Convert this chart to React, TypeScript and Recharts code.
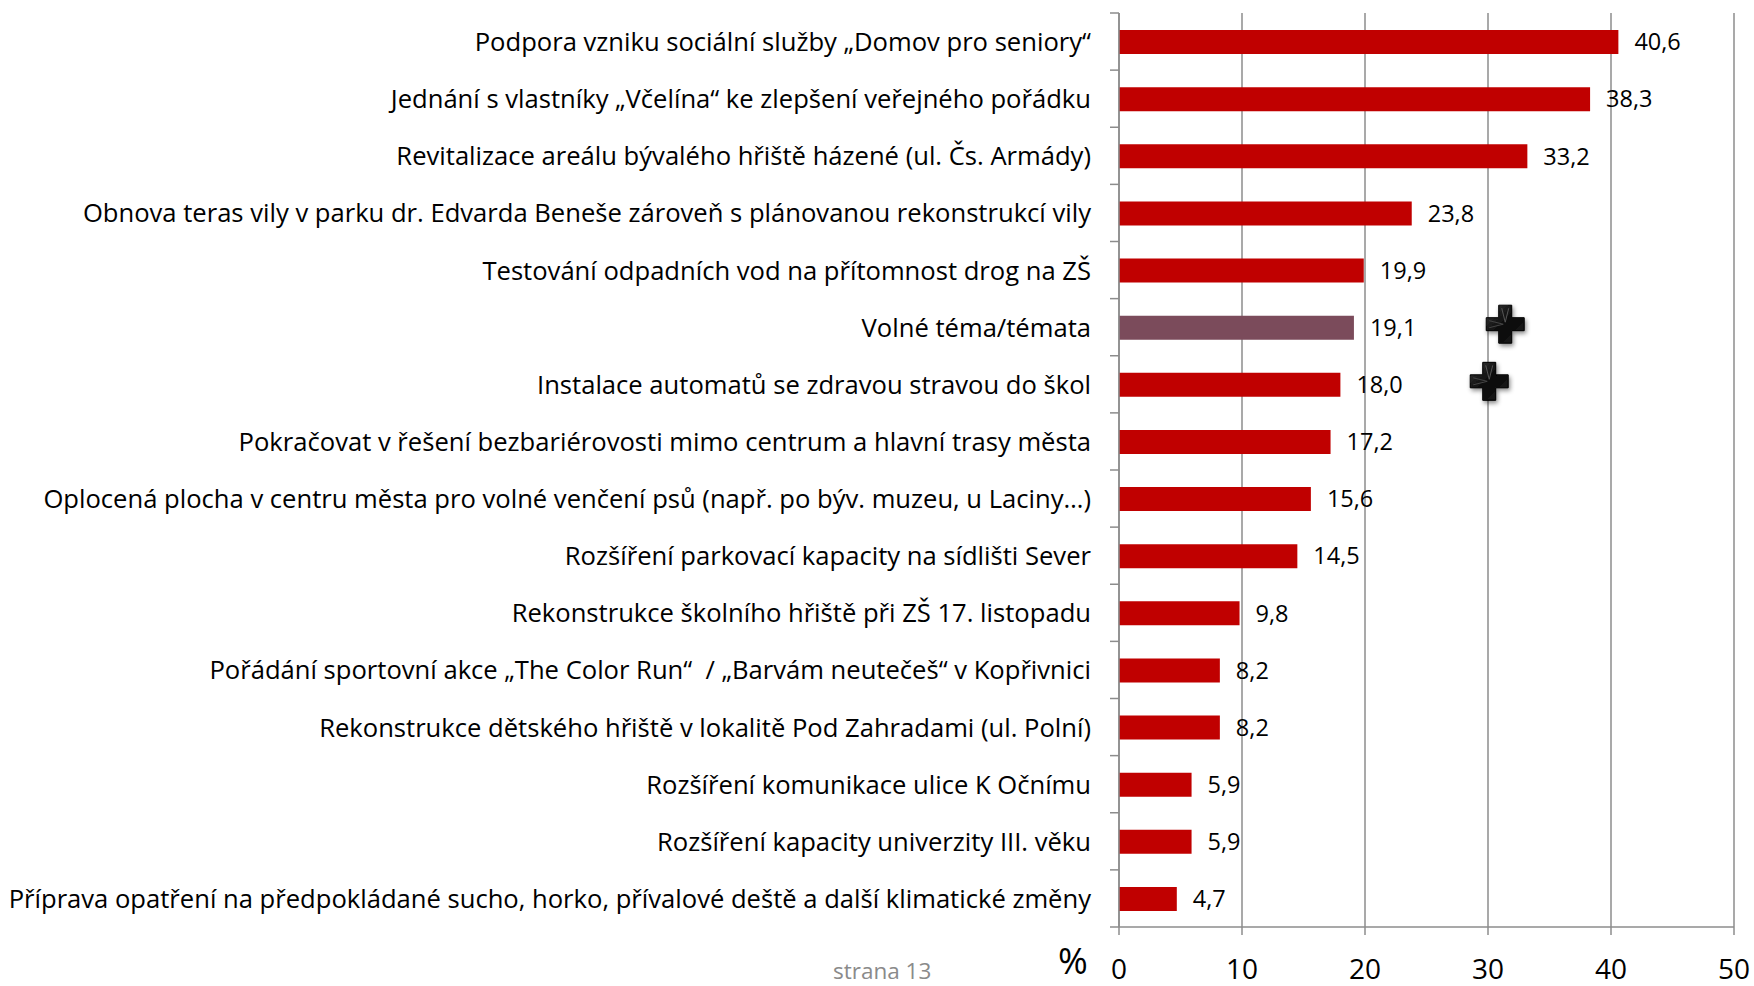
import React from "react"
import {
  ComposedChart,
  Bar,
  XAxis,
  YAxis,
  CartesianGrid,
  Cell,
  LabelList,
  ReferenceDot,
} from "recharts"

const categories = [
  "Podpora vzniku sociální služby „Domov pro seniory“",
  "Jednání s vlastníky „Včelína“ ke zlepšení veřejného pořádku",
  "Revitalizace areálu bývalého hřiště házené (ul. Čs. Armády)",
  "Obnova teras vily v parku dr. Edvarda Beneše zároveň s plánovanou rekonstrukcí vily",
  "Testování odpadních vod na přítomnost drog na ZŠ",
  "Volné téma/témata",
  "Instalace automatů se zdravou stravou do škol",
  "Pokračovat v řešení bezbariérovosti mimo centrum a hlavní trasy města",
  "Oplocená plocha v centru města pro volné venčení psů (např. po býv. muzeu, u Laciny…)",
  "Rozšíření parkovací kapacity na sídlišti Sever",
  "Rekonstrukce školního hřiště při ZŠ 17. listopadu",
  "Pořádání sportovní akce „The Color Run“  / „Barvám neutečeš“ v Kopřivnici",
  "Rekonstrukce dětského hřiště v lokalitě Pod Zahradami (ul. Polní)",
  "Rozšíření komunikace ulice K Očnímu",
  "Rozšíření kapacity univerzity III. věku",
  "Příprava opatření na předpokládané sucho, horko, přívalové deště a další klimatické změny",
]

const values = [40.6, 38.3, 33.2, 23.8, 19.9, 19.1, 18.0, 17.2, 15.6, 14.5, 9.8, 8.2, 8.2, 5.9, 5.9, 4.7]

const xTicks = [0, 10, 20, 30, 40, 50]

// the two black crosses drawn in the original slide
const plusMarks = [
  { name: "Volné téma/témata", x: 31.4 },
  { name: "Instalace automatů se zdravou stravou do škol", x: 30.1 },
]

const highlighted = "Volné téma/témata"

const data = categories.map((name, i) => ({ name, value: values[i] }))

const W = 1754
const H = 986
const TOP = 13
const X_AXIS_H = 59
const BAND = (H - TOP - X_AXIS_H) / categories.length
const FONT = "'Open Sans', 'Noto Sans', sans-serif"
const GRID = "#8c8c8c"

const CategoryTick = ({ x, y, payload, index }: any) => {
  const half = BAND / 2
  return (
    <g>
      <line x1={x - 9} x2={x} y1={y - half} y2={y - half} stroke={GRID} strokeWidth={1.5} />
      {index === categories.length - 1 && (
        <line x1={x - 9} x2={x} y1={y + half} y2={y + half} stroke={GRID} strokeWidth={1.5} />
      )}
      <text
        x={x - 28}
        y={y}
        textAnchor="end"
        dominantBaseline="central"
        fontSize={25.6}
        fontFamily={FONT}
        fill="#000"
        style={{ whiteSpace: "pre" }}
      >
        {payload.value}
      </text>
    </g>
  )
}

const ValueTick = ({ x, y, payload }: any) => (
  <text x={x} y={y + 31} textAnchor="middle" dominantBaseline="central" fontSize={28} fontFamily={FONT} fill="#000">
    {payload.value}
  </text>
)

const PlusShape = ({ cx, cy: cy0 }: any) => {
  const cy = cy0 - 3
  const s = 19
  const a = 6.5
  const d = `M${cx - a},${cy - s} H${cx + a} V${cy - a} H${cx + s} V${cy + a} H${cx + a} V${cy + s} H${cx - a} V${cy + a} H${cx - s} V${cy - a} H${cx - a} Z`
  return (
    <g>
      <defs>
        <filter id="plusShadow" x="-50%" y="-50%" width="200%" height="200%">
          <feDropShadow dx="1.5" dy="2.5" stdDeviation="2" floodColor="#000" floodOpacity="0.45" />
        </filter>
        <linearGradient id="plusFill" x1="0" y1="0" x2="1" y2="1">
          <stop offset="0%" stopColor="#3a3a3a" />
          <stop offset="50%" stopColor="#0a0a0a" />
          <stop offset="100%" stopColor="#1c1c1c" />
        </linearGradient>
      </defs>
      <path d={d} fill="url(#plusFill)" stroke="#000" strokeWidth={1} filter="url(#plusShadow)" />
      <path d={`M${cx - a + 3},${cy - s + 3} L${cx},${cy - 2} L${cx + a - 3},${cy - s + 3}`} fill="none" stroke="#555" strokeWidth={1} />
      <path d={`M${cx - s + 3},${cy - a + 3} L${cx - 2},${cy} L${cx - s + 3},${cy + a - 3}`} fill="none" stroke="#444" strokeWidth={1} />
    </g>
  )
}

export default function App() {
  return (
    <div style={{ position: "relative", width: W, height: H, overflow: "hidden", background: "#fff", fontFamily: FONT }}>
      <style>{"body{margin:0}"}</style>
      <ComposedChart
        width={W}
        height={H}
        data={data}
        layout="vertical"
        margin={{ top: TOP, right: 20, bottom: 0, left: 0 }}
      >
        <CartesianGrid horizontal={false} stroke={GRID} strokeWidth={1.5} />
        <XAxis
          type="number"
          domain={[0, 50]}
          ticks={xTicks}
          height={X_AXIS_H}
          axisLine={{ stroke: GRID, strokeWidth: 1.5 }}
          tickLine={{ stroke: GRID, strokeWidth: 1.5 }}
          tickSize={8}
          tick={<ValueTick />}
          interval={0}
        />
        <YAxis
          type="category"
          dataKey="name"
          width={1119}
          axisLine={{ stroke: GRID, strokeWidth: 1.5 }}
          tickLine={false}
          tickSize={0}
          tickMargin={0}
          tick={<CategoryTick />}
          interval={0}
        />
        <Bar dataKey="value" barSize={24} isAnimationActive={false}>
          {data.map((d, i) => (
            <Cell key={`cell-${i}`} fill={d.name === highlighted ? "#7b4b5b" : "#c00000"} />
          ))}
          <LabelList
            dataKey="value"
            position="right"
            offset={16}
            formatter={(v: any) => Number(v).toFixed(1).replace(".", ",")}
            style={{ fontSize: 23.5, fontFamily: FONT, fill: "#000" }}
          />
        </Bar>
        {plusMarks.map((p) => (
          <ReferenceDot key={p.name} x={p.x} y={p.name} r={19} shape={<PlusShape />} ifOverflow="visible" />
        ))}
      </ComposedChart>
      <div style={{ position: "absolute", left: 1058, top: 938, fontSize: 36, lineHeight: "46px", color: "#000" }}>%</div>
      <div style={{ position: "absolute", left: 833, top: 958, fontSize: 22.5, lineHeight: "26px", color: "#8a8a8a" }}>strana 13</div>
    </div>
  )
}
